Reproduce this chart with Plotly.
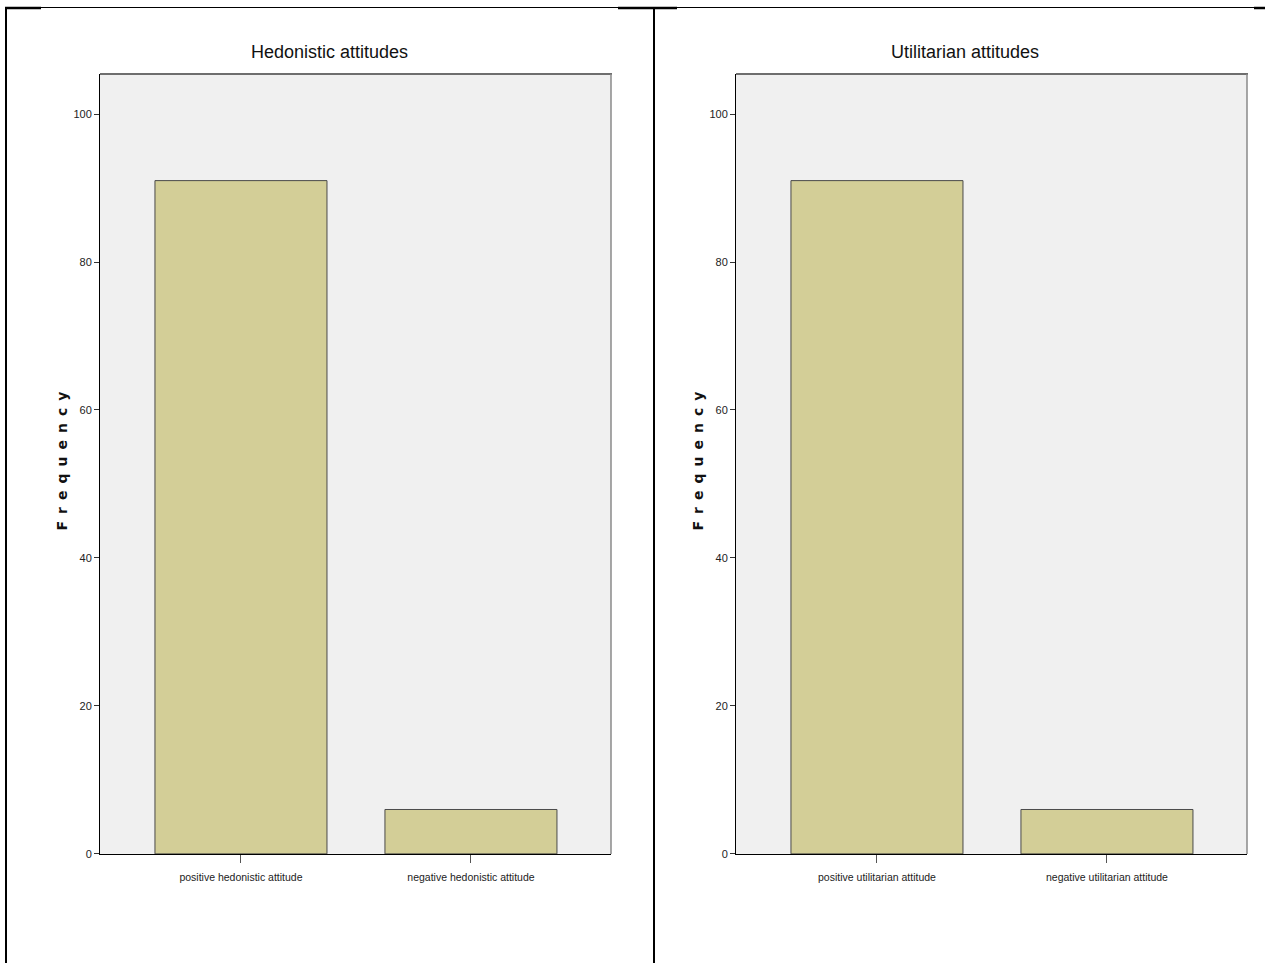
import plotly.graph_objects as go

# ---- data ----
titles = ["Hedonistic attitudes", "Utilitarian attitudes"]
hed_categories = ["positive hedonistic attitude", "negative hedonistic attitude"]
hed_values = [91, 6]
util_categories = ["positive utilitarian attitude", "negative utilitarian attitude"]
util_values = [91, 6]
y_ticks = [0, 20, 40, 60, 80, 100]

W, H = 1265, 963
HY = 956  # effective vertical mapping
def px(x):
    return x / W
def py(y):
    return 1 - y / HY

BAR_FILL = "#d3ce97"
BAR_LINE = "#4a4a4a"
SANS = "Liberation Sans, Arial, sans-serif"

fig = go.Figure()

panels = [
    dict(cats=hed_categories, vals=hed_values, x0=100, x1=611, title=titles[0], tx=329, fx=62, ax="x", ay="y"),
    dict(cats=util_categories, vals=util_values, x0=736, x1=1247, title=titles[1], tx=965, fx=698, ax="x2", ay="y2"),
]
top, bottom = 74, 853

shapes = []
annotations = []
for i, p in enumerate(panels):
    fig.add_trace(go.Bar(
        x=p["cats"], y=p["vals"], width=0.748,
        marker=dict(color=BAR_FILL, line=dict(color=BAR_LINE, width=1)),
        xaxis=p["ax"], yaxis=p["ay"], showlegend=False, hoverinfo="x+y",
    ))
    sfx = "" if i == 0 else "2"
    fig.layout["xaxis" + sfx] = dict(
        domain=[px(p["x0"]), px(p["x1"])], type="category",
        range=[-0.613, 1.609], anchor="y" + sfx,
        showline=True, linecolor="black", linewidth=1,
        ticks="outside", ticklen=8, tickcolor="#555555", tickwidth=1,
        ticklabelstandoff=6,
        tickfont=dict(family=SANS, size=10.5, color="#222222"),
        showgrid=False, zeroline=False, fixedrange=True,
    )
    fig.layout["yaxis" + sfx] = dict(
        domain=[py(bottom), py(top)], range=[0, 105.4], anchor="x" + sfx,
        showline=True, linecolor="black", linewidth=1,
        ticks="outside", ticklen=5, tickcolor="#333333", tickwidth=1,
        tickvals=y_ticks, tickfont=dict(family=SANS, size=11, color="#222222"),
        showgrid=False, zeroline=False, fixedrange=True,
    )
    # frame top/right
    shapes.append(dict(type="line", xref="paper", yref="paper",
                       x0=px(p["x0"]), x1=px(p["x1"] + 1), y0=py(top), y1=py(top),
                       line=dict(color="#6e6e6e", width=2)))
    shapes.append(dict(type="line", xref="paper", yref="paper",
                       x0=px(p["x1"]), x1=px(p["x1"]), y0=py(top), y1=py(bottom),
                       line=dict(color="#8a8a8a", width=1.5)))
    annotations.append(dict(text=p["title"], xref="paper", yref="paper",
                            x=px(p["tx"]), y=py(52), showarrow=False,
                            xanchor="center", yanchor="middle",
                            font=dict(family=SANS, size=18, color="#111111")))
    annotations.append(dict(text="\u2002".join("Frequency"), xref="paper", yref="paper",
                            x=px(p["fx"]), y=py(461), showarrow=False, textangle=-90,
                            xanchor="center", yanchor="middle",
                            font=dict(family="DejaVu Sans, sans-serif", size=14,
                                      color="#111111", weight="bold")))

# page / table borders
shapes += [
    dict(type="line", xref="paper", yref="paper", x0=px(5), x1=px(41), y0=py(8), y1=py(8),
         line=dict(color="black", width=2.5)),
    dict(type="line", xref="paper", yref="paper", x0=px(41), x1=px(1265), y0=py(7.5), y1=py(7.5),
         line=dict(color="black", width=1)),
    dict(type="line", xref="paper", yref="paper", x0=px(618), x1=px(677), y0=py(8), y1=py(8),
         line=dict(color="black", width=2.5)),
    dict(type="line", xref="paper", yref="paper", x0=px(1254), x1=px(1265), y0=py(8), y1=py(8),
         line=dict(color="black", width=2.5)),
    dict(type="line", xref="paper", yref="paper", x0=px(6), x1=px(6), y0=py(7), y1=py(962),
         line=dict(color="black", width=2)),
    dict(type="line", xref="paper", yref="paper", x0=px(654), x1=px(654), y0=py(7), y1=py(962),
         line=dict(color="black", width=2)),
]

fig.update_layout(
    width=W, height=H, margin=dict(l=0, r=0, t=0, b=0),
    paper_bgcolor="white", plot_bgcolor="#f0f0f0",
    shapes=shapes, annotations=annotations, showlegend=False,
)

fig.write_html("out.html", config={"displayModeBar": False},
               post_script="document.body.style.margin='0px';document.body.style.overflow='hidden';")
